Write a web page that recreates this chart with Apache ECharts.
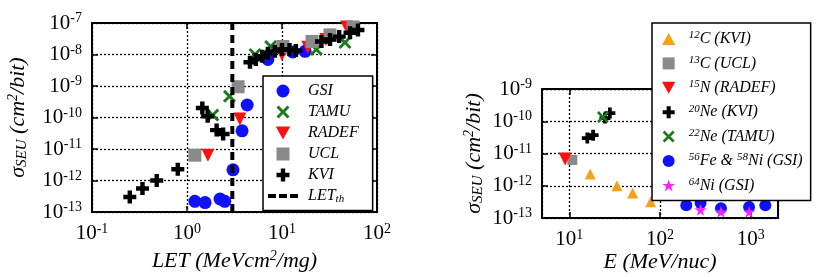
<!DOCTYPE html>
<html>
<head>
<meta charset="utf-8">
<script src="https://cdn.jsdelivr.net/npm/echarts@6/dist/echarts.min.js"></script>
<style>
html, body { margin: 0; padding: 0; background: #fff; }
#chart { width: 829px; height: 277px; }
</style>
</head>
<body>
<div id="chart"></div>
<script>
// left panel: cross section vs LET, [LET, sigma]
const gsiLet = [[1.21, 2.2e-13], [1.55, 2e-13], [2.23, 2.6e-13], [2.5, 2.2e-13], [3.05, 2.2e-12], [3.8, 3.8e-11], [4.3, 2.5e-10], [7.1, 7e-9], [13, 1.2e-8], [17.5, 1.26e-8]];
const tamuLet = [[1.87, 1.2e-10], [2.8, 4.7e-10], [5.2, 1e-8], [7.6, 1.8e-8], [23, 1.45e-8], [46, 2.4e-8]];
const radefLet = [[1.66, 6.4e-12], [3.6, 9e-11], [10, 1e-8], [18.7, 1.7e-8], [29, 3e-8], [48, 7.5e-8]];
const uclLet = [[1.21, 6.4e-12], [3.45, 9.5e-10], [10.2, 1.8e-8], [20.7, 2.6e-8], [32, 4.2e-8], [56, 7.5e-8]];
const kviLet = [[0.25, 3e-13], [0.34, 5.6e-13], [0.48, 1e-12], [0.8, 2.3e-12], [1.45, 2e-10], [1.65, 1.1e-10], [2.05, 4e-11], [2.4, 3e-11],
  [4.6, 5.7e-9], [5.3, 7e-9], [6.2, 8.8e-9], [7.1, 1.1e-8], [8.4, 1.26e-8], [10, 1.45e-8], [12, 1.45e-8], [14, 1.35e-8],
  [26, 2.6e-8], [32, 3e-8], [40, 3.7e-8], [52, 4.9e-8], [63, 6e-8]];
const letTh = 3;

// right panel: cross section vs energy, [E, sigma]
const c12Kvi = [[17, 2.3e-12], [33.5, 1e-12], [50, 6e-13], [79, 3.2e-13]];
const c13Ucl = [[10.8, 6.3e-12]];
const n15Radef = [[9.0, 6.7e-12]];
const ne20Kvi = [[15.8, 3e-11], [18.3, 3.7e-11], [24.7, 1.25e-10], [28, 1.8e-10]];
const ne22Tamu = [[23.5, 1.35e-10]];
const feNiGsi = [[195, 2.5e-13], [280, 2.9e-13], [470, 2e-13], [960, 2.2e-13], [1450, 2.5e-13]];
const ni64Gsi = [[280, 1.8e-13], [470, 1.55e-13], [960, 1.55e-13]];

const FONT = '"Liberation Serif", "DejaVu Serif", serif';
const PLUS = 'path://M3.3,0H6.7V3.3H10V6.7H6.7V10H3.3V6.7H0V3.3H3.3Z';
const XMARK = 'path://M0,1.6L1.6,0L5,3.4L8.4,0L10,1.6L6.6,5L10,8.4L8.4,10L5,6.6L1.6,10L0,8.4L3.4,5Z';
const TRIDOWN = 'path://M0,0H10L5,9Z';
const TRIUP = 'path://M5,0L10,9H0Z';
const SQUARE = 'path://M0,0H10V10H0Z';
const STAR = 'path://M5,0L6.2,3.6L10,3.6L6.9,5.9L8.1,9.5L5,7.3L1.9,9.5L3.1,5.9L0,3.6L3.8,3.6Z';
const DASHES = 'path://M0,0H8V4H0Z M11,0H19V4H11Z M22,0H30V4H22Z';

const tickRich = {
  sup: { fontSize: 14, fontFamily: FONT, color: '#000', padding: [0, 0, 9, 0] }
};
function powLabel (v) {
  const l = Math.log10(v);
  const e = Math.round(l);
  if (Math.abs(l - e) > 1e-6) return '';
  return '10{sup|' + e + '}';
}

function mainAxis (grid, pos, min, max, name, gap) {
  return {
    type: 'log', gridIndex: grid, position: pos, min: min, max: max,
    name: name, nameLocation: 'middle', nameGap: gap,
    nameRotate: (pos === 'left') ? 90 : 0,
    nameTextStyle: {
      fontFamily: FONT, fontStyle: 'italic', fontSize: 22, color: '#000',
      rich: {
        sup: { fontFamily: FONT, fontStyle: 'italic', fontSize: 14, padding: [0, 0, 10, 0] },
        sub: { fontFamily: FONT, fontStyle: 'italic', fontSize: 15, padding: [8, 0, 0, 0] }
      }
    },
    axisLine: { show: true, lineStyle: { color: '#000', width: 2 } },
    axisTick: { show: true, inside: true, length: 6, lineStyle: { color: '#000', width: 1.5 } },
    axisLabel: { fontFamily: FONT, fontSize: 21, color: '#000', margin: 10, formatter: powLabel, rich: tickRich },
    splitLine: { show: true, lineStyle: { color: '#000', width: 1.3, type: [2, 2] } }
  };
}
function sideAxis (grid, pos, min, max) {
  return {
    type: 'log', gridIndex: grid, position: pos, min: min, max: max,
    axisLine: { show: true, lineStyle: { color: '#000', width: 2 } },
    axisTick: { show: true, inside: true, length: 6, lineStyle: { color: '#000', width: 1.5 } },
    axisLabel: { show: false },
    splitLine: { show: false }
  };
}

function scatter (name, data, ax, symbol, size, color) {
  return {
    name: name, type: 'scatter', data: data, xAxisIndex: ax, yAxisIndex: ax,
    symbol: symbol, symbolSize: size, itemStyle: { color: color, opacity: 1 }
  };
}

const legendText = {
  fontFamily: FONT, fontStyle: 'italic', fontSize: 16, color: '#000', lineHeight: 16,
  padding: [0, 0, 0, 5],
  rich: {
    sup: { fontFamily: FONT, fontStyle: 'italic', fontSize: 11, padding: [0, 0, 7, 0] },
    sub: { fontFamily: FONT, fontStyle: 'italic', fontSize: 11, padding: [6, 0, 0, 0] }
  }
};

const chart = echarts.init(document.getElementById('chart'));
chart.setOption({
  backgroundColor: '#fff',
  animation: false,
  grid: [
    { left: 92, top: 23, width: 285, height: 193 },
    { left: 542, top: 89, width: 236, height: 129 }
  ],
  xAxis: [
    mainAxis(0, 'bottom', 0.1, 100, 'LET (MeVcm{sup|2}/mg)', 29),
    sideAxis(0, 'top', 0.1, 100),
    mainAxis(1, 'bottom', 5, 2000, 'E (MeV/nuc)', 29),
    sideAxis(1, 'top', 5, 2000)
  ],
  yAxis: [
    mainAxis(0, 'left', 1e-13, 1e-7, 'σ{sub|SEU} (cm{sup|2}/bit)', 62),
    sideAxis(0, 'right', 1e-13, 1e-7),
    mainAxis(1, 'left', 1e-13, 1e-9, 'σ{sub|SEU} (cm{sup|2}/bit)', 56),
    sideAxis(1, 'right', 1e-13, 1e-9)
  ],
  legend: [
    {
      left: 263, top: 76, orient: 'vertical', itemWidth: 30, itemHeight: 13, itemGap: 5,
      padding: [7, 14, 6, 5], backgroundColor: '#fff', borderColor: '#000', borderWidth: 1.5,
      textStyle: legendText,
      data: ['GSI', 'TAMU', 'RADEF', { name: 'UCL', icon: SQUARE }, 'KVI', { name: 'LETth', icon: DASHES }],
      formatter: function (n) { return n === 'LETth' ? 'LET{sub|th}' : n; }
    },
    {
      left: 652, top: 23, orient: 'vertical', itemWidth: 20, itemHeight: 12, itemGap: 7.4,
      padding: [7, 8, 7, 10], backgroundColor: '#fff', borderColor: '#000', borderWidth: 1.5,
      textStyle: legendText,
      data: ['12C (KVI)', { name: '13C (UCL)', icon: SQUARE }, '15N (RADEF)', '20Ne (KVI)', '22Ne (TAMU)', '56Fe & 58Ni (GSI)', '64Ni (GSI)'],
      formatter: function (n) {
        return n.replace(/(\d+)([A-Z][a-z]?)/g, '{sup|$1}$2');
      }
    }
  ],
  series: [
    scatter('GSI', gsiLet, 0, 'circle', 13, '#1010ff'),
    scatter('TAMU', tamuLet, 0, XMARK, 13, '#1b7a1b'),
    scatter('RADEF', radefLet, 0, TRIDOWN, 13, '#ff1010'),
    scatter('UCL', uclLet, 0, SQUARE, 13, '#8a8a8a'),
    scatter('KVI', kviLet, 0, PLUS, 13, '#000'),
    {
      name: 'LETth', type: 'line', xAxisIndex: 0, yAxisIndex: 0, symbol: 'none',
      data: [[letTh, 1e-13], [letTh, 1e-7]],
      lineStyle: { color: '#000', width: 4, type: [8, 5] }, itemStyle: { color: '#000' }
    },
    scatter('12C (KVI)', c12Kvi, 2, TRIUP, 11, '#f5a21b'),
    scatter('13C (UCL)', c13Ucl, 2, SQUARE, 10, '#8a8a8a'),
    scatter('15N (RADEF)', n15Radef, 2, TRIDOWN, 13, '#ff1010'),
    scatter('20Ne (KVI)', ne20Kvi, 2, PLUS, 11, '#000'),
    scatter('22Ne (TAMU)', ne22Tamu, 2, XMARK, 12, '#1b7a1b'),
    scatter('56Fe & 58Ni (GSI)', feNiGsi, 2, 'circle', 12, '#1010ff'),
    scatter('64Ni (GSI)', ni64Gsi, 2, STAR, 12, '#ff20ff')
  ]
});
</script>
</body>
</html>
